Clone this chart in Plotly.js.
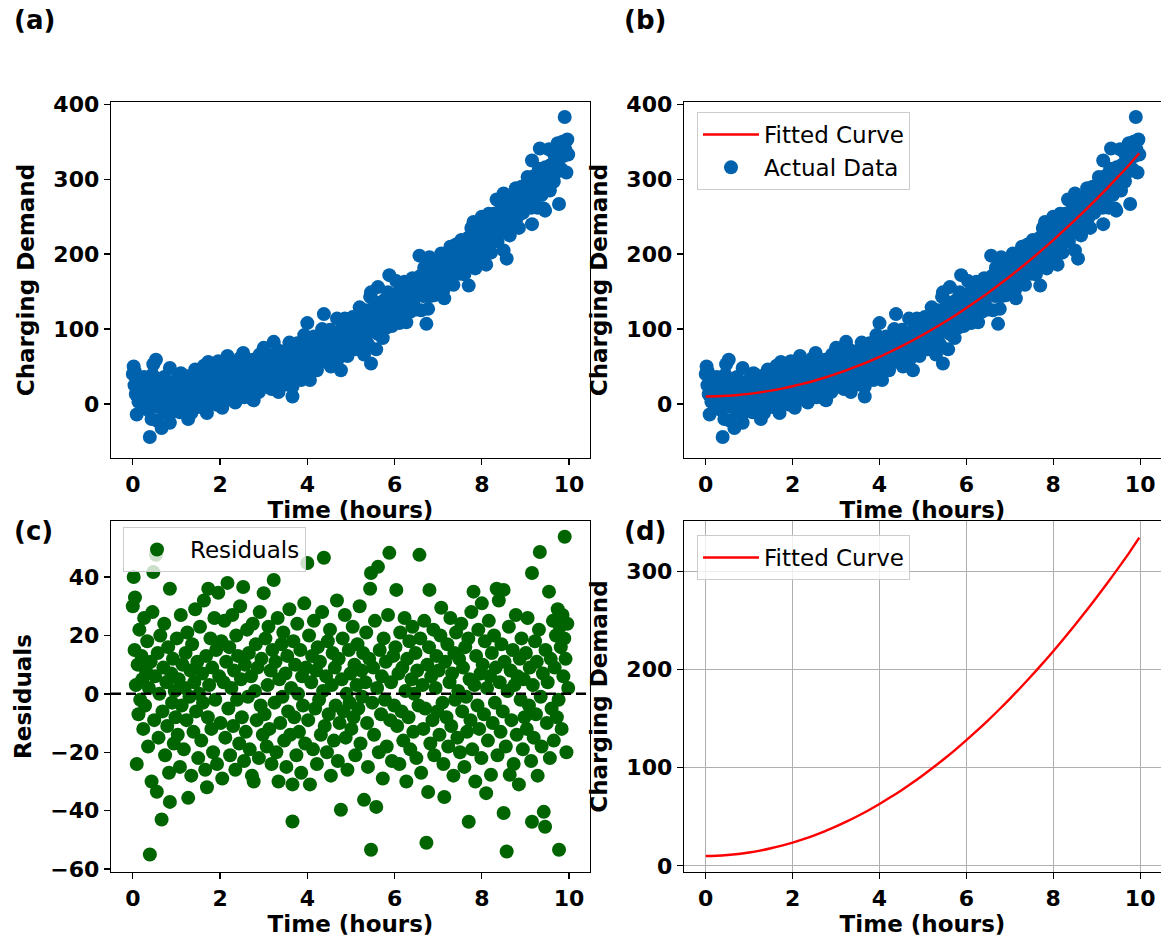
<!DOCTYPE html>
<html>
<head>
<meta charset="utf-8">
<script src="https://cdn.plot.ly/plotly-3.0.1.min.js"></script>
<style>
  html, body { margin: 0; padding: 0; background: #ffffff; }
  #chart { width: 1161px; height: 945px; }
</style>
</head>
<body>
<div id="chart"></div>
<script>
// ---- data ----
const hours = [
  0.00,0.02,0.04,0.05,0.07,0.09,0.11,0.13,0.15,0.17,0.20,0.22,0.24,0.26,0.28,0.30,0.33,0.35,0.37,0.39,0.41,0.43,0.45,0.47,0.49,0.51,0.53,0.55,0.57,0.59,0.61,0.63,0.66,0.68,0.70,0.72,0.74,0.77,0.79,0.81,0.83,0.85,0.85,0.88,0.90,0.92,0.94,0.96,0.98,
  1.01,1.03,1.05,1.08,1.10,1.12,1.14,1.17,1.19,1.21,1.23,1.25,1.27,1.30,1.32,1.34,1.36,1.39,1.41,1.43,1.45,1.48,1.50,1.52,1.54,1.57,1.59,1.61,1.63,1.66,1.68,1.70,1.72,1.73,1.75,1.78,1.80,1.82,1.84,1.87,1.89,1.91,1.93,1.96,1.98,
  2.01,2.03,2.05,2.08,2.10,2.12,2.14,2.17,2.19,2.21,2.23,2.26,2.28,2.30,2.32,2.35,2.37,2.39,2.41,2.44,2.46,2.48,2.50,2.53,2.55,2.57,2.59,2.62,2.64,2.66,2.68,2.71,2.73,2.75,2.77,2.80,2.82,2.84,2.86,2.89,2.91,2.93,2.95,2.98,3.00,
  3.02,3.04,3.07,3.09,3.11,3.13,3.16,3.18,3.20,3.23,3.25,3.27,3.29,3.32,3.34,3.36,3.38,3.41,3.43,3.45,3.47,3.50,3.52,3.54,3.56,3.59,3.61,3.63,3.66,3.66,3.68,3.70,3.72,3.75,3.77,3.79,3.81,3.84,3.86,3.88,3.90,3.93,3.95,3.97,4.00,
  4.02,4.04,4.06,4.09,4.11,4.13,4.15,4.18,4.20,4.22,4.24,4.27,4.29,4.31,4.34,4.36,4.38,4.40,4.43,4.45,4.47,4.49,4.52,4.54,4.56,4.58,4.61,4.63,4.65,4.68,4.70,4.72,4.74,4.77,4.79,4.81,4.83,4.86,4.88,4.90,4.92,4.95,4.97,4.99,
  5.01,5.04,5.06,5.08,5.10,5.13,5.15,5.17,5.20,5.22,5.24,5.26,5.28,5.30,5.33,5.35,5.37,5.39,5.42,5.44,5.46,5.46,5.49,5.51,5.53,5.55,5.58,5.60,5.62,5.64,5.66,5.69,5.71,5.73,5.75,5.78,5.80,5.82,5.85,5.88,5.90,5.92,5.94,5.97,5.99,
  6.02,6.04,6.06,6.09,6.11,6.13,6.16,6.18,6.20,6.23,6.25,6.27,6.29,6.32,6.34,6.36,6.39,6.41,6.43,6.45,6.48,6.50,6.52,6.55,6.57,6.59,6.61,6.64,6.66,6.68,6.70,6.73,6.75,6.77,6.79,6.80,6.82,6.84,6.87,6.89,6.91,6.94,6.96,6.98,
  7.01,7.03,7.05,7.07,7.10,7.12,7.14,7.16,7.19,7.21,7.23,7.26,7.28,7.30,7.32,7.35,7.37,7.39,7.41,7.44,7.46,7.48,7.50,7.53,7.55,7.57,7.60,7.62,7.64,7.66,7.69,7.70,7.72,7.74,7.76,7.78,7.81,7.83,7.85,7.87,7.90,7.92,7.94,7.97,7.99,
  8.00,8.02,8.05,8.07,8.10,8.12,8.14,8.16,8.19,8.21,8.23,8.25,8.28,8.30,8.32,8.34,8.36,8.39,8.41,8.43,8.45,8.48,8.50,8.50,8.52,8.55,8.57,8.59,8.62,8.64,8.66,8.68,8.71,8.73,8.75,8.78,8.80,8.82,8.85,8.87,8.89,8.91,8.94,8.96,8.98,
  9.01,9.03,9.05,9.08,9.10,9.13,9.15,9.15,9.17,9.19,9.22,9.24,9.26,9.28,9.31,9.33,9.35,9.37,9.40,9.42,9.45,9.46,9.49,9.51,9.54,9.56,9.58,9.60,9.63,9.65,9.67,9.70,9.72,9.74,9.76,9.77,9.79,9.81,9.83,9.85,9.87,9.89,9.90,9.92,9.94,9.96,9.98
];
const demand = [
  40,50,25,43,13,-14,20,3,32,8,23,15,-2,36,6,18,28,-8,12,-44,21,-20,39,53,2,17,59,-22,25,-4,11,31,-32,5,21,36,-9,16,1,28,-15,48,-25,19,10,25,-4,14,5,
  33,0,19,-11,41,10,24,-5,16,29,6,37,-20,15,24,-12,33,3,21,46,11,29,-4,18,41,3,26,16,51,-7,33,-12,12,56,24,40,9,30,1,48,20,37,-1,57,29,
  14,42,-5,28,50,10,36,64,21,43,6,29,55,17,36,2,49,27,43,13,61,36,23,68,9,42,19,55,32,48,15,41,7,59,5,37,53,28,46,16,66,34,51,26,75,
  33,60,23,45,65,30,51,20,59,83,42,56,25,72,16,52,37,65,48,70,34,58,26,65,45,82,39,56,23,10,73,47,66,36,81,57,45,74,32,66,56,92,45,71,108,
  54,84,32,68,78,46,90,61,76,45,86,68,82,57,100,74,120,63,81,56,95,70,99,50,81,93,64,90,78,114,60,96,74,45,90,105,80,114,73,90,64,107,89,99,
  81,116,86,104,73,99,114,92,129,83,108,100,116,66,107,125,94,80,118,143,149,54,106,119,96,136,73,114,156,93,130,109,123,88,138,118,131,102,149,172,116,130,104,140,124,
  145,164,119,138,108,154,127,144,120,163,139,109,151,132,159,123,149,168,133,146,161,126,157,146,198,171,125,158,144,182,153,107,169,127,176,196,144,167,154,188,145,170,182,164,
  179,158,191,201,171,152,141,186,170,197,163,187,210,174,193,159,203,188,213,181,193,205,174,219,190,206,173,216,200,189,222,158,209,196,235,188,243,213,181,224,210,237,204,224,196,
  250,230,214,241,186,228,211,254,237,202,245,222,254,232,245,273,217,272,245,230,262,238,281,205,258,230,194,251,276,225,261,246,273,235,262,288,248,270,235,279,267,290,255,281,265,
  289,264,303,274,291,262,325,240,290,274,305,281,300,262,314,341,294,279,307,261,258,316,292,308,340,285,319,304,336,297,324,336,310,348,318,267,344,339,313,350,331,345,383,339,309,353,333
];
const residuals = [
  30,40,15,33,3,-24,10,-7,22,-2,13,5,-12,26,-4,8,18,-18,2,-55,11,-30,28,41.7,-9,6,47.6,-33.5,14,-15,0,20,-43,-6,9,24,-21,4,-11,16,-27,36,-37,7,-3,12,-17,1,-8,
  19,-14,5,-25,27,-4,10,-19,2,14,-9,21,-35.6,-1,8,-28,17,-13,4,29,-6,11,-22,0,23,-16,7,-3,32,-26,13,-32,-8,36,3,19,-12,9,-20,26,-2,15,-24,34.6,6,
  -10,18,-29,4,25,-15,11,38,-5,16,-21,2,27,-11,8,-26,20,-2,13,-17,30,5,-8,36.6,-23,10,-13,22,-1,14,-19,6,-28,24,-30,1,17,-9,9,-22,28,-4,12,-14,34.5,
  -7,19,-18,3,23,-12,8,-24,15,39,-3,11,-20,26,-30,5,-10,17,-1,21,-16,7,-25,13,-6,29,-14,2,-31,-43.7,18,-8,10,-21,24,0,-13,15,-27,6,-4,31,-17,9,44.8,
  -9,20,-31,4,13,-19,25,-5,8,-24,16,-2,11,-14,28,1,46.6,-11,6,-20,18,-7,22,-28,3,14,-16,9,-4,32,-23,12,-10,-39.7,5,19,-6,27,-15,0,-26,15,-3,7,
  -12,23,-8,10,-21,3,17,-5,30,-17,8,-1,14,-36.3,4,21,-10,-25,12,36,41.4,-53.4,-3,9,-14,25,-38.7,2,43.5,-20,15,-7,6,-29,19,-2,11,-18,27,48.3,-9,4,-23,13,-4,
  16,35.6,-11,7,-24,21,-6,9,-16,26,1,-30,12,-8,18,-19,5,23,-13,0,14,-22,8,-4,47.6,19,-27,3,-12,25,-5,-51,10,-33.6,16,35.6,-17,6,-9,22,-21,2,13,-6,
  8,-14,20,29.5,-3,-24,-35.3,11,-8,17,-18,4,26,-11,7,-28,14,-2,21,-15,1,12,-20,24,-6,9,-25,16,-1,-13,19,-43.8,5,-9,28,-19,35,3,-30,13,-4,22,-12,7,-22,
  31,10,-7,18,-34,2,-16,25,6,-27.7,14,-10,20,-3,9,36,-21,32,4,-13,17,-6,35.6,-40.8,11,-18,-54,1,23,-27.7,8,-9,15,-24,3,27,-14,6,-31,12,-2,19,-19,5,-8,
  14,-12,26,-4,9,-23,41.4,-43.8,3,-15,18,-7,11,-28,22,48.6,-1,-18,7,-40.4,-45.5,15,-10,4,35,-22,12,-5,25,-16,9,20,-8,29,-2,-53.4,23,16,-12,27,6,19,53.8,12,-20,24,2
];
const fitHours = [0,0.25,0.5,0.75,1,1.25,1.5,1.75,2,2.25,2.5,2.75,3,3.25,3.5,3.75,4,4.25,4.5,4.75,5,5.25,5.5,5.75,6,6.25,6.5,6.75,7,7.25,7.5,7.75,8,8.25,8.5,8.75,9,9.25,9.5,9.75,9.98];
const fitDemand = [10.0,10.3,11.0,12.1,13.6,15.5,17.9,20.6,23.7,27.2,31.1,35.4,40.2,45.3,50.8,56.7,63.0,69.8,76.9,84.4,92.4,100.7,109.4,118.5,128.1,138.0,148.3,159.1,170.2,181.8,193.7,206.1,218.8,232.0,245.5,259.4,273.8,288.5,303.7,319.3,334.5];
const timeTicks = [0,2,4,6,8,10];
const demandTicks = [0,100,200,300,400];
const residualTicks = [-60,-40,-20,0,20,40];
const fitTicks = [0,100,200,300];
const panelLabels = ['(a)','(b)','(c)','(d)'];

// ---- styling ----
const FONT = 'DejaVu Sans';
const BLUE = '#0062ac';
const GREEN = '#006400';
const RED = '#ff0000';
const MSIZE = 14;

const W = 1161, H = 945;
const M = {l: 111, r: 0, t: 102, b: 73};
const PW = W - M.l - M.r, PH = H - M.t - M.b;
const px = v => (v - M.l) / PW;           // pixel x -> paper x
const py = v => (H - M.b - v) / PH;       // pixel y -> paper y

function axisBase(extra) {
  return Object.assign({
    showline: true, linecolor: 'black', linewidth: 1.3, mirror: true,
    ticks: 'outside', ticklen: 6, tickwidth: 1.3, tickcolor: 'black',
    tickfont: {family: FONT, size: 22, color: 'black', weight: 'bold'},
    showgrid: false, zeroline: false, automargin: false
  }, extra);
}
function xTitle() {
  return {text: 'Time (hours)', font: {family: FONT, size: 23, color: 'black', weight: 'bold'}, standoff: 6};
}
function yTitle(t) {
  return {text: t, font: {family: FONT, size: 23, color: 'black', weight: 'bold'}, standoff: 12};
}

const xLeft = [px(111), px(590)];
const xRight = [px(684), 1];
const yTop = [py(458), py(102)];
const yBot = [py(872), py(521)];

const traces = [
  {x: hours, y: demand, type: 'scatter', mode: 'markers', xaxis: 'x', yaxis: 'y',
   marker: {color: BLUE, size: MSIZE, line: {width: 0}}, showlegend: false, name: 'Actual Data'},
  {x: hours, y: demand, type: 'scatter', mode: 'markers', xaxis: 'x2', yaxis: 'y2',
   marker: {color: BLUE, size: MSIZE, line: {width: 0}}, name: 'Actual Data', legend: 'legend', legendrank: 2},
  {x: fitHours, y: fitDemand, type: 'scatter', mode: 'lines', xaxis: 'x2', yaxis: 'y2',
   line: {color: RED, width: 2.4, shape: 'spline'}, name: 'Fitted Curve', legend: 'legend', legendrank: 1},
  {x: hours, y: residuals, type: 'scatter', mode: 'markers', xaxis: 'x3', yaxis: 'y3',
   marker: {color: GREEN, size: MSIZE, line: {width: 0}}, name: 'Residuals', legend: 'legend2'},
  {x: fitHours, y: fitDemand, type: 'scatter', mode: 'lines', xaxis: 'x4', yaxis: 'y4',
   line: {color: RED, width: 2.4, shape: 'spline'}, name: 'Fitted Curve', legend: 'legend3'}
];

const legendStyle = {
  bgcolor: 'rgba(255,255,255,0.8)', bordercolor: '#cccccc', borderwidth: 1,
  font: {family: FONT, size: 23, color: 'black'}, xanchor: 'left', yanchor: 'top',
  itemwidth: 56, traceorder: 'normal'
};

const layout = {
  width: W, height: H, margin: M,
  paper_bgcolor: 'white', plot_bgcolor: 'white',
  font: {family: FONT, color: 'black'},
  xaxis: axisBase({domain: xLeft, anchor: 'y', range: [-0.5, 10.48], tickvals: timeTicks, title: xTitle()}),
  yaxis: axisBase({domain: yTop, anchor: 'x', range: [-72, 403], tickvals: demandTicks, title: yTitle('Charging Demand')}),
  xaxis2: axisBase({domain: xRight, anchor: 'y2', range: [-0.5, 10.48], tickvals: timeTicks, title: xTitle()}),
  yaxis2: axisBase({domain: yTop, anchor: 'x2', range: [-72, 403], tickvals: demandTicks, title: yTitle('Charging Demand')}),
  xaxis3: axisBase({domain: xLeft, anchor: 'y3', range: [-0.5, 10.48], tickvals: timeTicks, title: xTitle()}),
  yaxis3: axisBase({domain: yBot, anchor: 'x3', range: [-61, 59.2], tickvals: residualTicks, title: yTitle('Residuals')}),
  xaxis4: axisBase({domain: xRight, anchor: 'y4', range: [-0.5, 10.48], tickvals: timeTicks, title: xTitle(),
                    showgrid: true, gridcolor: '#b0b0b0', gridwidth: 1}),
  yaxis4: axisBase({domain: yBot, anchor: 'x4', range: [-6.3, 351.5], tickvals: fitTicks, title: yTitle('Charging Demand'),
                    showgrid: true, gridcolor: '#b0b0b0', gridwidth: 1}),
  legend: Object.assign({}, legendStyle, {x: px(697), y: py(112)}),
  legend2: Object.assign({}, legendStyle, {x: px(123), y: py(527)}),
  legend3: Object.assign({}, legendStyle, {x: px(697), y: py(535)}),
  shapes: [
    {type: 'line', xref: 'x3 domain', x0: 0, x1: 1, yref: 'y3', y0: 0, y1: 0,
     line: {color: 'black', width: 2.5, dash: '10px,5px'}, layer: 'above'}
  ],
  annotations: [
    {text: panelLabels[0], x: px(12), y: py(20)},
    {text: panelLabels[1], x: px(622), y: py(20)},
    {text: panelLabels[2], x: px(12), y: py(531)},
    {text: panelLabels[3], x: px(622), y: py(531)}
  ].map(a => Object.assign({xref: 'paper', yref: 'paper', xanchor: 'left', yanchor: 'middle', showarrow: false,
                             font: {family: FONT, size: 26, color: 'black', weight: 'bold'}}, a))
};

Plotly.newPlot('chart', traces, layout, {displayModeBar: false, staticPlot: true});
</script>
</body>
</html>
